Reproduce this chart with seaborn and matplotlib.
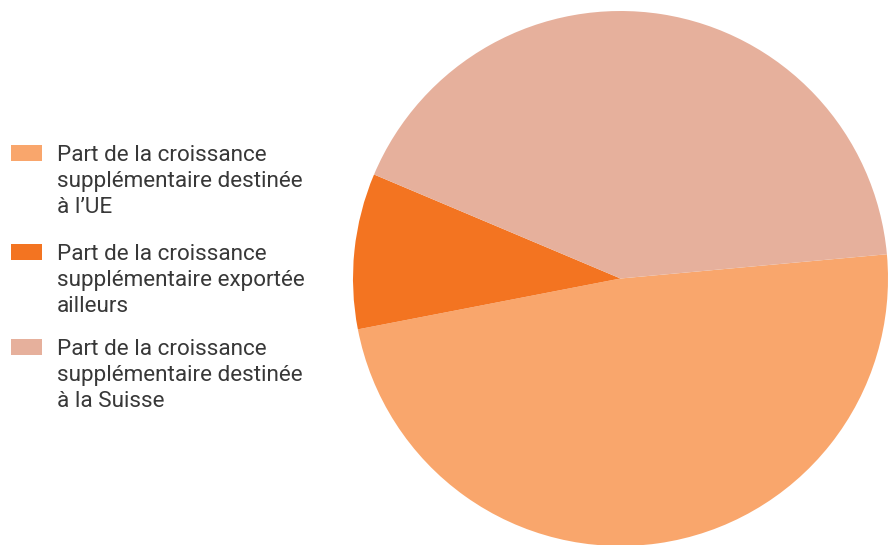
import matplotlib
matplotlib.use("Agg")
import matplotlib.pyplot as plt
from matplotlib.patches import Rectangle
import seaborn as sns

# Données (part en %)
labels = [
    "Part de la croissance\nsupplémentaire destinée\nà l\u2019UE",
    "Part de la croissance\nsupplémentaire exportée\nailleurs",
    "Part de la croissance\nsupplémentaire destinée\nà la Suisse",
]
shares = [48.4, 9.4, 42.2]
colors = ["#F9A66C", "#F37421", "#E6B09C"]

sns.set_theme(style="white")
plt.rcParams["font.family"] = ["Roboto", "DejaVu Sans"]

W, H = 890, 545
fig = plt.figure(figsize=(W / 100, H / 100), dpi=100)
ax = fig.add_axes([353 / W, -1 / H, 535 / W, 535 / H])

pal = sns.color_palette(colors)
wedges, _ = ax.pie(shares, colors=pal, startangle=5.2,
                   counterclock=False, wedgeprops=dict(linewidth=0))
ax.set_xlim(-1, 1)
ax.set_ylim(-1, 1)
ax.set_aspect("equal")

# légende dessinée à la main (carré + texte sur 3 lignes)
tops = [145, 244, 339]
for top, lab, col in zip(tops, labels, pal):
    fig.add_artist(Rectangle((11 / W, 1 - (top + 16) / H), 31 / W, 16 / H,
                             transform=fig.transFigure, color=col, lw=0))
    # va="baseline" se cale sur la dernière ligne
    fig.text(57 / W, 1 - (top + 68) / H, lab, fontsize=16.2, color="#383838",
             va="baseline", ha="left", linespacing=1.3)

fig.savefig("out.png", dpi=100)
plt.close()
